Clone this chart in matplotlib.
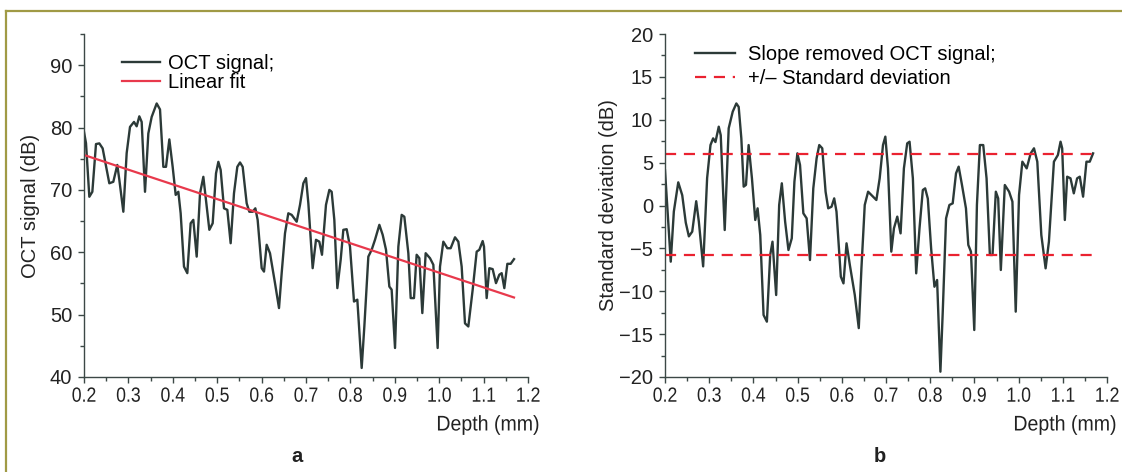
import matplotlib
matplotlib.use("Agg")
import matplotlib.pyplot as plt
from matplotlib.lines import Line2D
from matplotlib.ticker import MultipleLocator
from matplotlib.patheffects import AbstractPathEffect
from matplotlib.transforms import Affine2D

# ---------------- data ----------------
depth_a = [0.200, 0.2045, 0.212, 0.2188, 0.227, 0.2345, 0.242, 0.257, 0.266, 0.275,
           0.2796, 0.2886, 0.2961, 0.3036, 0.3126, 0.3186, 0.3246, 0.3299, 0.3374, 0.3449,
           0.3524, 0.3637, 0.3712, 0.3787, 0.3847, 0.3922, 0.3997, 0.4065, 0.4125, 0.4177,
           0.4252, 0.4327, 0.4402, 0.4462, 0.4538, 0.4613, 0.4688, 0.4763, 0.4823, 0.4898,
           0.4973, 0.5026, 0.5078, 0.5153, 0.5228, 0.5303, 0.5378, 0.5453, 0.5514, 0.5574,
           0.5664, 0.5724, 0.5799, 0.5859, 0.5911, 0.6002, 0.6054, 0.6114, 0.6189, 0.6302,
           0.6392, 0.6452, 0.6527, 0.6602, 0.6677, 0.679, 0.6865, 0.694, 0.700, 0.7053,
           0.715, 0.7225, 0.730, 0.736, 0.745, 0.7526, 0.7578, 0.7638, 0.7706, 0.7781,
           0.7841, 0.7916, 0.7991, 0.8081, 0.8156, 0.8254, 0.8314, 0.8404, 0.8479, 0.8554,
           0.8652, 0.8727, 0.8802, 0.8877, 0.8929, 0.9005, 0.908, 0.9155, 0.9215, 0.9305,
           0.9358, 0.9432, 0.9492, 0.9553, 0.962, 0.9695, 0.9793, 0.9868, 0.9965, 1.0018,
           1.0093, 1.0183, 1.0258, 1.0356, 1.0431, 1.0506, 1.0581, 1.0656, 1.0754, 1.0844,
           1.0904, 1.0979, 1.1009, 1.1069, 1.1129, 1.1204, 1.1279, 1.1354, 1.1407, 1.1467,
           1.1535, 1.161, 1.1685]
signal_a = [79.3, 77.5, 68.9, 69.7, 77.35, 77.46, 76.66, 71.06, 71.3, 74.0,
            71.6, 66.5, 75.9, 80.1, 80.9, 80.2, 81.8, 80.9, 69.7, 79.06,
            81.7, 83.86, 82.9, 73.7, 73.7, 78.1, 73.7, 69.2, 69.7, 66.25,
            57.7, 56.65, 64.65, 65.2, 59.3, 69.45, 72.1, 67.3, 63.6, 64.65,
            72.65, 74.5, 73.2, 67.05, 66.8, 61.45, 69.45, 73.7, 74.4, 73.7,
            67.85, 66.5, 66.5, 67.05, 65.2, 57.45, 56.9, 61.2, 59.85, 55.05,
            51.05, 56.65, 63.05, 66.25, 66.0, 64.9, 67.6, 71.06, 71.9, 67.85,
            57.45, 62.0, 61.7, 59.6, 67.6, 70.0, 69.7, 65.2, 54.25, 58.8,
            63.6, 63.7, 60.9, 52.1, 52.4, 41.45, 48.1, 59.3, 60.4, 62.0,
            64.4, 62.8, 60.4, 54.5, 54.0, 44.65, 60.9, 66.0, 65.7, 59.85,
            52.65, 52.65, 59.6, 59.05, 50.25, 59.85, 59.05, 58.0, 44.65, 57.7,
            61.7, 60.65, 60.65, 62.4, 61.7, 57.7, 48.6, 48.1, 54.0, 60.1,
            60.4, 61.8, 60.9, 52.65, 57.45, 57.3, 55.05, 56.4, 56.65, 54.25,
            58.15, 58.15, 58.9]
fit_depth = [0.200, 1.1685]
fit_values = [75.6, 52.75]

depth_b = [0.200, 0.203, 0.213, 0.220, 0.230, 0.239, 0.247, 0.254, 0.2616, 0.2706,
           0.2766, 0.2863, 0.2953, 0.3029, 0.3089, 0.3141, 0.3216, 0.3261, 0.3351, 0.3441,
           0.3532, 0.3614, 0.3667, 0.3727, 0.378, 0.3832, 0.3892, 0.3967, 0.4042, 0.4095,
           0.4155, 0.423, 0.4305, 0.438, 0.4432, 0.4515, 0.4583, 0.4643, 0.4718, 0.4793,
           0.4868, 0.4928, 0.4995, 0.5055, 0.513, 0.5205, 0.528, 0.5355, 0.543, 0.549,
           0.5558, 0.5633, 0.5693, 0.5768, 0.5828, 0.588, 0.5978, 0.6038, 0.6107, 0.6182,
           0.6294, 0.6384, 0.6444, 0.6519, 0.6595, 0.667, 0.6782, 0.6857, 0.6932, 0.6985,
           0.7045, 0.712, 0.718, 0.7255, 0.733, 0.7405, 0.748, 0.7533, 0.7608, 0.7683,
           0.7758, 0.7833, 0.7886, 0.7946, 0.8021, 0.8096, 0.8156, 0.8231, 0.8284, 0.8359,
           0.8434, 0.8509, 0.8584, 0.8644, 0.8719, 0.8809, 0.8862, 0.8922, 0.8997, 0.9057,
           0.9124, 0.920, 0.9275, 0.935, 0.941, 0.9485, 0.9538, 0.9598, 0.9688, 0.9785,
           0.986, 0.9935, 1.001, 1.0085, 1.0183, 1.0273, 1.0348, 1.0423, 1.0514, 1.0611,
           1.0686, 1.0799, 1.0889, 1.0949, 1.0986, 1.1046, 1.1099, 1.1174, 1.1249, 1.1324,
           1.1384, 1.1459, 1.1535, 1.161, 1.1685]
residual_b = [4.1, 1.6, -6.55, -0.7, 2.7, 1.2, -2.0, -3.6, -3.05, 0.5,
              -1.9, -7.1, 3.2, 7.05, 7.83, 7.4, 9.19, 8.2, -2.86, 9.0,
              10.94, 11.9, 11.5, 7.83, 2.2, 2.4, 7.05, 3.17, -1.69, -0.33,
              -3.44, -12.77, -13.55, -5.77, -4.22, -10.44, 0.06, 2.59, -1.89, -5.19,
              -3.83, 2.78, 6.08, 4.72, -0.91, -1.5, -6.36, 2.0, 5.5, 7.05,
              6.67, 1.61, -0.33, -0.14, 0.83, -0.72, -8.3, -9.08, -4.41, -6.94,
              -10.44, -14.3, -7.33, 0.06, 1.61, 1.22, 0.64, 3.17, 7.05, 8.03,
              4.33, -5.38, -2.66, -1.3, -3.25, 4.33, 7.25, 7.44, 3.17, -7.91,
              -2.66, 1.81, 2.0, 0.8, -5.0, -9.47, -8.69, -19.38, -12.38, -1.5,
              0.06, 0.25, 3.75, 4.53, 2.39, -0.33, -4.6, -5.38, -14.52, 0.06,
              7.05, 7.05, 3.17, -5.77, -5.77, 1.61, 0.83, -7.52, 2.39, 1.61,
              0.45, -12.38, 1.22, 5.11, 4.33, 6.08, 6.67, 5.11, -3.44, -7.33,
              -4.22, 5.11, 5.89, 7.44, 6.67, -1.69, 3.36, 3.17, 1.42, 3.17,
              3.36, 1.03, 5.11, 5.11, 6.08]
std_depth = [0.200, 1.180]
std_upper = 6.05
std_lower = -5.82

x_ticks = [0.2, 0.3, 0.4, 0.5, 0.6, 0.7, 0.8, 0.9, 1.0, 1.1, 1.2]
x_tick_labels = ["0.2", "0.3", "0.4", "0.5", "0.6", "0.7", "0.8", "0.9", "1.0", "1.1", "1.2"]
ya_ticks = [40, 50, 60, 70, 80, 90]
yb_ticks = [-20, -15, -10, -5, 0, 5, 10, 15, 20]

# ---------------- style ----------------
W, H = 1122, 472
DPI = 100
plt.rcParams['font.family'] = ['Liberation Sans', 'DejaVu Sans']
FS = 14.5
FS_X = 14.8

DARK = '#2c3a38'
AXC = '#3c4846'
TXT = '#222222'
RED_FIT = '#e8394c'
RED_DASH = '#ea2230'


class Condense(AbstractPathEffect):
    """Draw text horizontally condensed (the reference uses a narrow face)."""

    def __init__(self, sx=0.82, anchor='center'):
        super().__init__()
        self.sx = sx
        self.anchor = anchor

    def draw_path(self, renderer, gc, tpath, affine, rgbFace=None):
        ext = tpath.get_extents()
        if self.anchor == 'center':
            cx = 0.5 * (ext.x0 + ext.x1)
        elif self.anchor == 'right':
            cx = ext.x1
        else:
            cx = ext.x0
        t = Affine2D().translate(-cx, 0).scale(self.sx, 1.0).translate(cx, 0)
        renderer.draw_path(gc, tpath, t + affine, rgbFace)


fig = plt.figure(figsize=(W / DPI, H / DPI), dpi=DPI)
fig.patch.set_facecolor('white')

# outer frame (top and left edges visible)
fig.add_artist(Line2D([6 / W, 1.0], [1 - 11 / H, 1 - 11 / H], color='#a09a45', lw=1.6,
                      transform=fig.transFigure))
fig.add_artist(Line2D([6 / W, 6 / W], [0, 1 - 11 / H], color='#a09a45', lw=1.6,
                      transform=fig.transFigure))

ax_h = 343 / H
ax_b = 95 / H
axA = fig.add_axes([84 / W, ax_b, 444 / W, ax_h])
axB = fig.add_axes([665 / W, ax_b, 442 / W, ax_h])


def style(ax):
    for s in ['top', 'right']:
        ax.spines[s].set_visible(False)
    for s in ['left', 'bottom']:
        ax.spines[s].set_color(AXC)
        ax.spines[s].set_linewidth(1.0)
    ax.set_xlim(0.2, 1.2)
    ax.set_xticks(x_ticks)
    ax.set_xticklabels(x_tick_labels, fontsize=FS_X)
    ax.xaxis.set_minor_locator(MultipleLocator(0.05))
    ax.tick_params(which='major', direction='out', length=4.5, width=1.0, color=AXC,
                   labelcolor=TXT)
    ax.tick_params(axis='y', labelsize=FS)
    ax.tick_params(which='minor', direction='out', length=3, width=1.0, color=AXC)
    ax.tick_params(axis='x', pad=2.5)
    ax.tick_params(axis='y', pad=4)
    ax.set_facecolor('none')


# ---- panel a ----
axA.plot(depth_a, signal_a, color=DARK, lw=1.7, label='OCT signal;', solid_joinstyle='round')
axA.plot(fit_depth, fit_values, color=RED_FIT, lw=1.6, label='Linear fit')
style(axA)
axA.set_ylim(40, 95)
axA.set_yticks(ya_ticks)
axA.yaxis.set_minor_locator(MultipleLocator(5))
axA.set_ylabel('OCT signal (dB)', fontsize=FS, color=TXT)
axA.yaxis.set_label_coords(-0.098, 0.5)
axA.legend(loc='upper left', bbox_to_anchor=((122 - 84) / 444, (377 - 54) / 343),
           frameon=False, fontsize=FS, handlelength=1.9, handletextpad=0.4,
           labelspacing=0.0, borderpad=0, borderaxespad=0)

# ---- panel b ----
axB.plot(depth_b, residual_b, color=DARK, lw=1.7, label='Slope removed OCT signal;',
         solid_joinstyle='round')
axB.plot(std_depth, [std_upper, std_upper], color=RED_DASH, lw=1.6, dashes=(5, 3.5),
         label='+/\u2013 Standard deviation')
axB.plot(std_depth, [std_lower, std_lower], color=RED_DASH, lw=1.6, dashes=(5, 3.5))
style(axB)
axB.set_ylim(-20, 20)
axB.set_yticks(yb_ticks)
axB.yaxis.set_minor_locator(MultipleLocator(2.5))
axB.set_ylabel('Standard deviation (dB)', fontsize=FS, color=TXT)
axB.yaxis.set_label_coords(-0.107, 0.5)
axB.legend(loc='upper left', bbox_to_anchor=((695 - 665) / 442, (377 - 45) / 343),
           frameon=False, fontsize=FS, handlelength=2.0, handletextpad=0.65,
           labelspacing=0.25, borderpad=0, borderaxespad=0)

# x labels and panel letters
for xr in (540, 1117):
    fig.text(xr / W, 1 - 425 / H, 'Depth (mm)', ha='right', va='center', fontsize=15.3,
             color=TXT, path_effects=[Condense(0.92, 'right')])
fig.text(297 / W, 1 - 456 / H, 'a', ha='center', va='center', fontsize=FS,
         fontweight='bold', color=TXT)
fig.text(880 / W, 1 - 456 / H, 'b', ha='center', va='center', fontsize=FS,
         fontweight='bold', color=TXT)

fig.canvas.draw()
for ax in (axA, axB):
    for lbl in ax.get_xticklabels():
        lbl.set_path_effects([Condense(0.86, 'center')])

fig.savefig('out.png', dpi=DPI, facecolor='white')
